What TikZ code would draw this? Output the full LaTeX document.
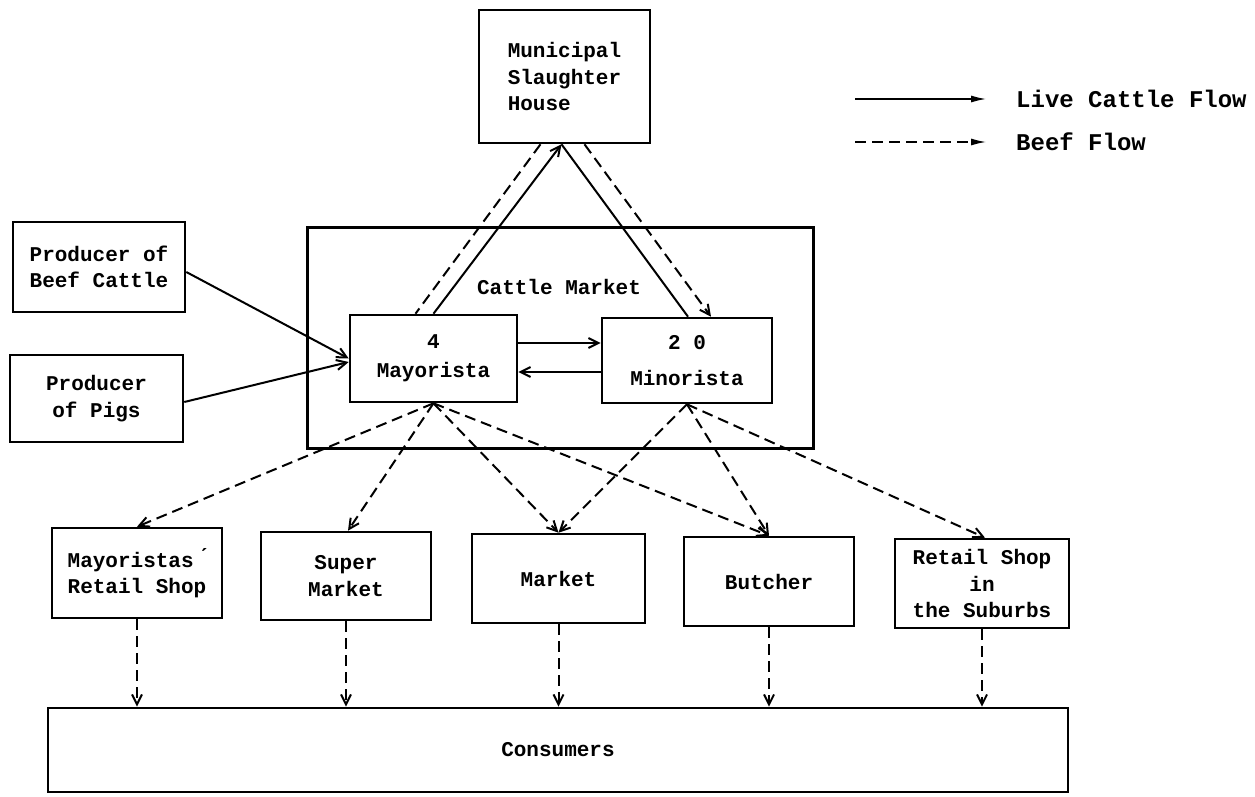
\documentclass[tikz,border=0pt]{standalone}
\usepackage{fontspec}
\setmonofont{Liberation Mono}
\usetikzlibrary{arrows.meta,calc}
\tikzset{
  box/.style={draw, line width=2.6pt, font=\ttfamily\bfseries\fontsize{21}{26.5}\selectfont, align=center, inner sep=0pt},
  plain/.style={font=\ttfamily\bfseries\fontsize{21}{26.5}\selectfont, inner sep=0pt},
  legtext/.style={font=\ttfamily\bfseries\fontsize{24}{28}\selectfont, inner sep=0pt, anchor=west},
  live/.style={line width=2pt},
  beef/.style={line width=2pt, dash pattern=on 11pt off 6pt},
  tip/.style={-{Straight Barb[length=10pt,width=10pt]}},
  filltip/.style={-{Latex[length=16pt,width=7pt]}},
}
\begin{document}
\begin{tikzpicture}[x=1pt,y=-1pt]
\useasboundingbox (0,0) rectangle (1255,797);

% nodes
\node[box, minimum width=171pt, minimum height=133pt, align=left] (sh) at (564.5,76.5) {Municipal\\Slaughter\\House};
\node[draw, line width=3pt, minimum width=506pt, minimum height=221pt] (cm) at (560,338) {};
\node[plain] (cmlabel) at (559,287) {Cattle Market};
\node[box, minimum width=167pt, minimum height=87pt] (may) at (433.5,358.5) {4\\[2.5pt]Mayorista};
\node[box, minimum width=170pt, minimum height=85pt] (min) at (687,360.5) {2 0\\[10pt]Minorista};
\node[box, minimum width=172pt, minimum height=90pt] (pbc) at (99,267) {Producer of\\Beef Cattle};
\node[box, minimum width=173pt, minimum height=87pt] (pig) at (96.5,398.5) {Producer\\of Pigs};
\node[box, minimum width=170pt, minimum height=90pt] (mrs) at (137,573) {Mayoristas\'{}\\Retail Shop};
\node[box, minimum width=170pt, minimum height=88pt] (sm) at (346,576) {Super\\Market};
\node[box, minimum width=173pt, minimum height=89pt] (mk) at (558.5,578.5) {Market};
\node[box, minimum width=170pt, minimum height=89pt] (bu) at (769,581.5) {Butcher};
\node[box, minimum width=174pt, minimum height=89pt] (rs) at (982,583.5) {Retail Shop\\in\\the Suburbs};
\node[box, minimum width=1020pt, minimum height=84pt] (con) at (558,750) {Consumers};

% legend
\coordinate (la1) at (855,99);
\coordinate (lb1) at (987,99);
\coordinate (la2) at (855,142);
\coordinate (lb2) at (987,142);
\draw[live, filltip] (la1) -- (lb1);
\draw[beef, filltip] (la2) -- (lb2);
\node[legtext] (lt1) at (1016,99) {Live Cattle Flow};
\node[legtext] (lt2) at (1016,142) {Beef Flow};

% slaughter house connections
\draw[beef] ([xshift=-24pt]sh.south) -- ([xshift=-18pt]may.north);
\draw[live, tip] (may.north) -- ([xshift=-3pt]sh.south);
\draw[live] ([xshift=-3pt]sh.south) -- ([xshift=1pt]min.north);
\draw[beef, tip] ([xshift=20pt]sh.south) -- ([xshift=24pt]min.north);

% between mayorista and minorista
\draw[live, tip] ([yshift=15.5pt]may.east) -- ([yshift=17.5pt]min.west);
\draw[live, tip] ([yshift=-11.5pt]min.west) -- ([yshift=-13.5pt]may.east);

% producers
\draw[live, tip] ([yshift=-5pt]pbc.east) -- (may.west);
\draw[live, tip] ([yshift=-3.5pt]pig.east) -- ([yshift=-3.5pt]may.west);

% beef flows to retail
\draw[beef, tip] (may.south) -- (mrs.north);
\draw[beef, tip] (may.south) -- ([xshift=2pt]sm.north);
\draw[beef, tip] (may.south) -- (mk.north);
\draw[beef, tip] (may.south) -- (bu.north);
\draw[beef, tip] (min.south) -- (mk.north);
\draw[beef, tip] (min.south) -- (bu.north);
\draw[beef, tip] (min.south) -- ([xshift=3pt]rs.north);

% retail to consumers
\draw[beef, tip] (mrs.south) -- (mrs.south |- con.north);
\draw[beef, tip] (sm.south) -- (sm.south |- con.north);
\draw[beef, tip] (mk.south) -- (mk.south |- con.north);
\draw[beef, tip] (bu.south) -- (bu.south |- con.north);
\draw[beef, tip] (rs.south) -- (rs.south |- con.north);
\end{tikzpicture}
\end{document}
